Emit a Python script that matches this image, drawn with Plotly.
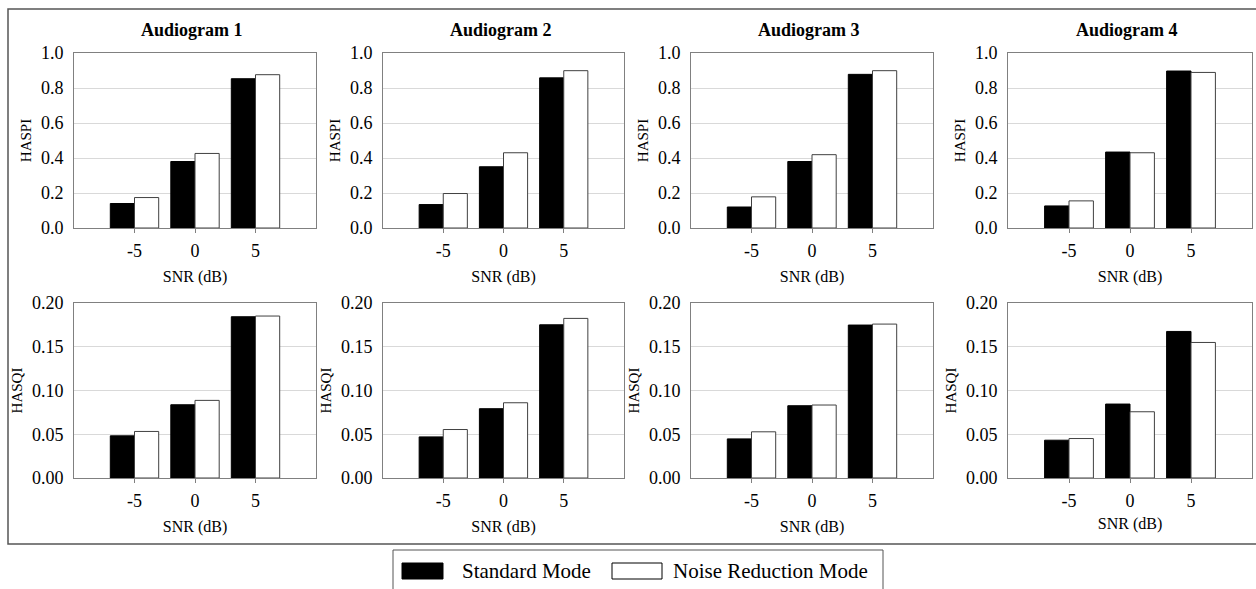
import plotly.graph_objects as go

W, H = 1256, 589

snr_labels = ["-5", "0", "5"]
panel_titles = ["Audiogram 1", "Audiogram 2", "Audiogram 3", "Audiogram 4"]
series_names = ["Standard Mode", "Noise Reduction Mode"]

# HASPI values (top row)
haspi_standard = [
    [0.140, 0.380, 0.853],
    [0.134, 0.350, 0.858],
    [0.120, 0.380, 0.878],
    [0.126, 0.434, 0.897],
]
haspi_noise_red = [
    [0.174, 0.426, 0.876],
    [0.197, 0.430, 0.899],
    [0.178, 0.419, 0.899],
    [0.155, 0.430, 0.889],
]
# HASQI values (bottom row)
hasqi_standard = [
    [0.0482, 0.0837, 0.1843],
    [0.0470, 0.0792, 0.1751],
    [0.0447, 0.0826, 0.1748],
    [0.0432, 0.0845, 0.1675],
]
hasqi_noise_red = [
    [0.0532, 0.0887, 0.1851],
    [0.0554, 0.0860, 0.1824],
    [0.0528, 0.0834, 0.1759],
    [0.0451, 0.0757, 0.1549],
]

haspi_ticks = [0.0, 0.2, 0.4, 0.6, 0.8, 1.0]
hasqi_ticks = [0.00, 0.05, 0.10, 0.15, 0.20]

FONT = "Liberation Serif, Times New Roman, serif"

# pixel geometry of plot areas
x_px = [(74, 316), (383, 624), (691, 933), (1008, 1252)]
row_px = [(53, 228), (303, 478)]

def px_x(p):
    return p / W

def px_y(p):
    return 1 - p / H

fig = go.Figure()
layout = dict()
annotations = []
shapes = []

idx = 0
for r in range(2):
    for c in range(4):
        idx += 1
        xa = "x" if idx == 1 else f"x{idx}"
        ya = "y" if idx == 1 else f"y{idx}"
        if r == 0:
            std, nr = haspi_standard[c], haspi_noise_red[c]
            ticks, fmt, ytitle, yr = haspi_ticks, "{:.1f}", "HASPI", [0, 1.0]
        else:
            std, nr = hasqi_standard[c], hasqi_noise_red[c]
            ticks, fmt, ytitle, yr = hasqi_ticks, "{:.2f}", "HASQI", [0, 0.20]
        fig.add_trace(go.Bar(
            x=snr_labels, y=std, name=series_names[0], xaxis=xa, yaxis=ya,
            marker=dict(color="#000000", line=dict(color="#000000", width=1)),
            showlegend=False, offsetgroup="a"))
        fig.add_trace(go.Bar(
            x=snr_labels, y=nr, name=series_names[1], xaxis=xa, yaxis=ya,
            marker=dict(color="#ffffff", line=dict(color="#404040", width=1)),
            showlegend=False, offsetgroup="b"))
        x0, x1 = x_px[c]
        t0, t1 = row_px[r]
        xkey = "xaxis" if idx == 1 else f"xaxis{idx}"
        ykey = "yaxis" if idx == 1 else f"yaxis{idx}"
        xt_standoff = 8 if (r == 1 and c == 3) else 11
        layout[xkey] = dict(
            domain=[px_x(x0), px_x(x1)], anchor=ya, type="category",
            range=[-1, 3], showgrid=False, zeroline=False, automargin=False,
            showline=True, linecolor="#808080", linewidth=1, mirror=True,
            ticks="outside", ticklen=4, tickcolor="#808080", ticklabelstandoff=2,
            tickfont=dict(family=FONT, size=18, color="#000"),
            title=dict(text="SNR (dB)", font=dict(family=FONT, size=16, color="#000"),
                       standoff=xt_standoff),
            fixedrange=True,
        )
        layout[ykey] = dict(
            domain=[px_y(t1), px_y(t0)], anchor=xa, range=yr,
            tickvals=ticks, ticktext=[fmt.format(t) for t in ticks],
            showgrid=True, gridcolor="#d9d9d9", gridwidth=1, zeroline=False, automargin=False,
            showline=True, linecolor="#808080", linewidth=1, mirror=True,
            ticks="", ticklabelstandoff=6, tickfont=dict(family=FONT, size=18, color="#000"),
            title=dict(text=ytitle, font=dict(family=FONT, size=15, color="#000"), standoff=5),
            fixedrange=True,
        )
        if r == 0:
            annotations.append(dict(
                text="<b>" + panel_titles[c] + "</b>", xref="paper", yref="paper",
                x=px_x((x0 + x1) / 2 - 3), y=px_y(30), xanchor="center", yanchor="middle",
                showarrow=False, font=dict(family=FONT, size=18, color="#000")))

# outer frame
shapes.append(dict(type="rect", xref="paper", yref="paper",
                   x0=px_x(8), x1=px_x(1262), y0=px_y(544), y1=px_y(9),
                   line=dict(color="#555555", width=1.5), fillcolor="rgba(0,0,0,0)"))
# legend box
shapes.append(dict(type="rect", xref="paper", yref="paper",
                   x0=px_x(393), x1=px_x(883), y0=px_y(595), y1=px_y(550),
                   line=dict(color="#555555", width=1), fillcolor="rgba(0,0,0,0)"))
# legend swatches
shapes.append(dict(type="rect", xref="paper", yref="paper",
                   x0=px_x(402), x1=px_x(443), y0=px_y(579), y1=px_y(563),
                   line=dict(color="#000", width=1), fillcolor="#000"))
shapes.append(dict(type="rect", xref="paper", yref="paper",
                   x0=px_x(612), x1=px_x(662), y0=px_y(579), y1=px_y(563),
                   line=dict(color="#000", width=1), fillcolor="#fff"))
annotations.append(dict(text=series_names[0], xref="paper", yref="paper",
                        x=px_x(460), y=px_y(571), xanchor="left", yanchor="middle",
                        showarrow=False, font=dict(family=FONT, size=21, color="#000")))
annotations.append(dict(text=series_names[1], xref="paper", yref="paper",
                        x=px_x(671), y=px_y(571), xanchor="left", yanchor="middle",
                        showarrow=False, font=dict(family=FONT, size=21, color="#000")))

fig.update_layout(
    template="none",
    width=W, height=H,
    margin=dict(l=0, r=0, t=0, b=0, pad=0, autoexpand=False),
    paper_bgcolor="#ffffff", plot_bgcolor="#ffffff",
    barmode="group", bargap=0.2, bargroupgap=0.0,
    showlegend=False,
    annotations=annotations, shapes=shapes,
    **layout,
)

fig.write_html("out.html", config={"displayModeBar": False},
               post_script="document.body.style.margin='0';document.body.style.overflow='hidden';")
